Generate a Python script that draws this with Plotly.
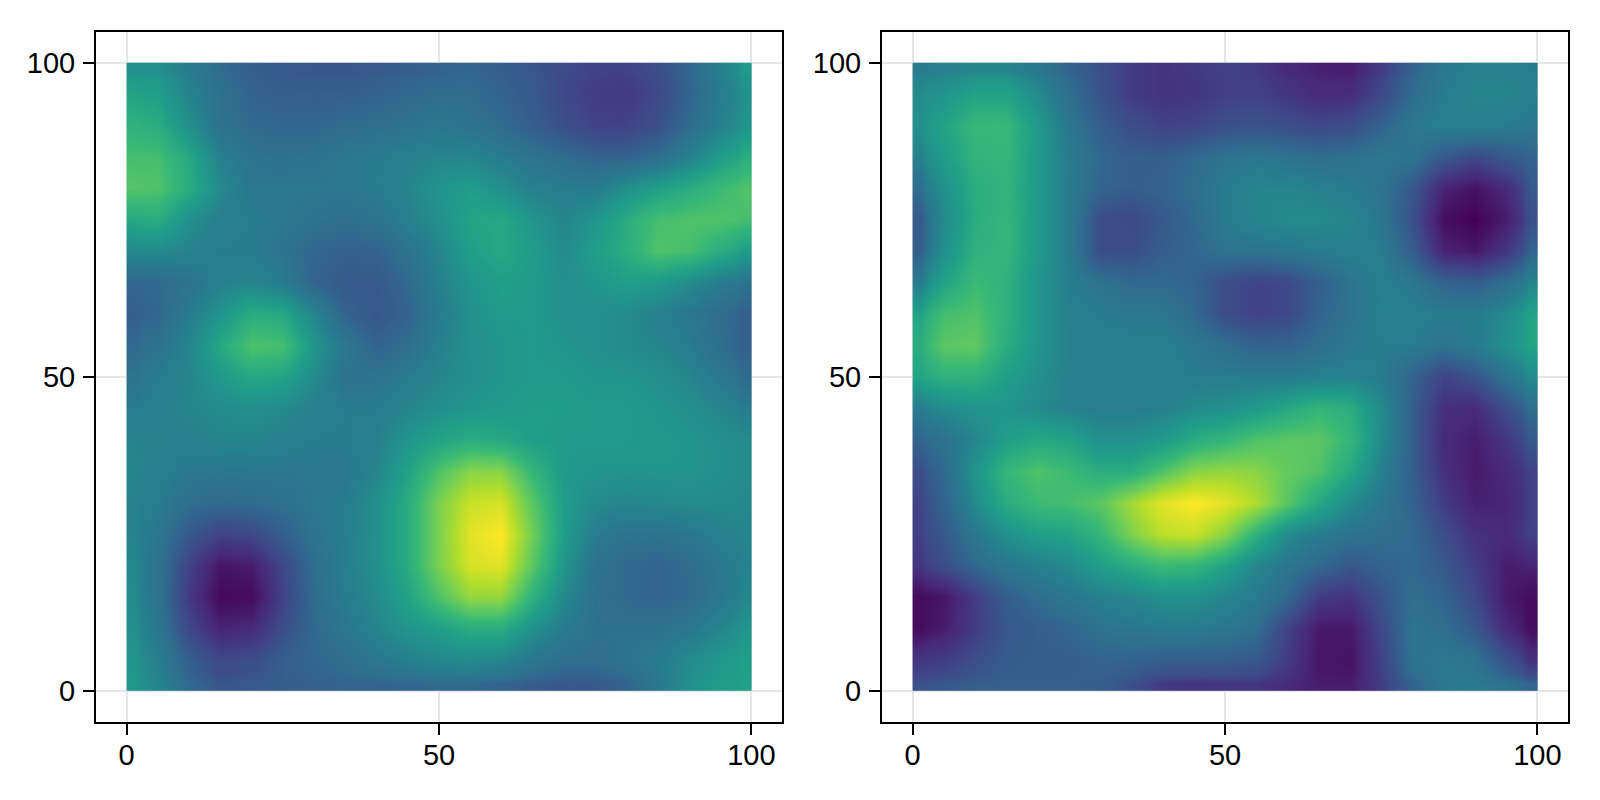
import plotly.graph_objects as go
from plotly.subplots import make_subplots

grid_x = list(range(0, 101, 5))
grid_y = list(range(100, -1, -5))
tick_values = [0, 50, 100]

left_values = [
[.50,.50,.42,.35,.30,.28,.27,.27,.28,.30,.32,.33,.30,.27,.23,.20,.20,.24,.33,.44,.54],
[.58,.56,.45,.37,.32,.30,.30,.30,.32,.34,.35,.35,.32,.28,.22,.18,.17,.22,.32,.42,.50],
[.64,.62,.50,.38,.34,.33,.33,.35,.36,.38,.40,.38,.35,.30,.25,.20,.20,.25,.35,.44,.52],
[.70,.70,.60,.44,.38,.37,.38,.40,.42,.44,.46,.46,.42,.38,.35,.32,.32,.36,.44,.55,.62],
[.73,.72,.62,.48,.40,.40,.40,.40,.42,.46,.52,.55,.50,.44,.42,.42,.50,.56,.62,.68,.72],
[.60,.62,.50,.43,.42,.40,.38,.36,.38,.44,.50,.58,.60,.52,.46,.52,.62,.70,.72,.72,.70],
[.47,.48,.45,.42,.42,.38,.33,.31,.32,.38,.46,.56,.60,.55,.48,.56,.62,.72,.70,.62,.55],
[.33,.34,.38,.44,.46,.42,.32,.28,.28,.34,.44,.52,.56,.54,.50,.52,.56,.54,.48,.42,.38],
[.30,.33,.42,.52,.62,.60,.46,.32,.27,.32,.42,.50,.54,.54,.50,.50,.48,.44,.40,.35,.30],
[.34,.38,.46,.60,.72,.70,.52,.40,.32,.36,.44,.50,.52,.54,.52,.50,.48,.46,.42,.36,.30],
[.38,.42,.46,.54,.60,.58,.48,.38,.38,.42,.46,.50,.52,.54,.54,.52,.52,.50,.46,.40,.35],
[.42,.44,.46,.48,.50,.48,.44,.42,.42,.46,.50,.52,.54,.55,.55,.54,.54,.52,.50,.46,.42],
[.45,.45,.44,.46,.46,.44,.42,.42,.44,.52,.58,.62,.60,.56,.54,.54,.54,.53,.52,.50,.48],
[.46,.44,.40,.40,.40,.40,.40,.40,.46,.58,.72,.82,.82,.66,.54,.52,.52,.52,.52,.50,.48],
[.45,.42,.36,.34,.35,.37,.40,.42,.50,.62,.80,.92,.94,.74,.55,.48,.46,.47,.48,.48,.47],
[.45,.40,.28,.20,.22,.30,.38,.43,.50,.62,.80,.96,1.0,.78,.55,.42,.38,.38,.40,.44,.46],
[.47,.38,.20,.06,.08,.22,.36,.43,.50,.62,.80,.94,.96,.74,.52,.38,.34,.32,.35,.40,.44],
[.48,.38,.17,.02,.03,.20,.35,.42,.48,.58,.72,.84,.84,.64,.47,.37,.34,.32,.34,.40,.46],
[.50,.40,.22,.10,.12,.24,.34,.40,.46,.52,.56,.62,.62,.50,.42,.37,.37,.37,.40,.46,.52],
[.52,.44,.30,.22,.24,.30,.33,.36,.40,.44,.47,.48,.46,.40,.36,.36,.38,.42,.48,.53,.56],
[.53,.46,.34,.27,.28,.30,.31,.32,.32,.33,.34,.34,.32,.29,.27,.28,.32,.40,.50,.55,.57],
]

right_values = [
[.42,.44,.46,.46,.40,.32,.25,.18,.15,.17,.20,.18,.12,.09,.08,.18,.32,.40,.44,.44,.42],
[.48,.52,.58,.58,.48,.36,.26,.18,.15,.16,.19,.20,.16,.12,.13,.22,.35,.42,.46,.46,.44],
[.50,.58,.67,.67,.54,.40,.30,.24,.20,.21,.25,.26,.24,.22,.24,.32,.40,.44,.44,.42,.40],
[.44,.55,.65,.66,.54,.42,.34,.30,.30,.34,.38,.40,.38,.36,.37,.40,.38,.28,.22,.28,.32],
[.36,.50,.62,.65,.54,.42,.32,.30,.32,.36,.42,.46,.46,.44,.42,.38,.28,.10,.05,.12,.28],
[.28,.48,.62,.66,.54,.42,.24,.22,.28,.34,.42,.46,.48,.48,.46,.40,.25,.04,.00,.08,.25],
[.30,.50,.64,.66,.54,.42,.24,.24,.30,.33,.38,.38,.40,.42,.44,.42,.30,.10,.07,.16,.32],
[.42,.58,.68,.64,.52,.43,.38,.34,.34,.32,.24,.20,.22,.30,.38,.44,.40,.32,.30,.36,.46],
[.58,.70,.72,.64,.52,.44,.42,.40,.40,.34,.24,.20,.22,.32,.38,.44,.44,.42,.42,.48,.58],
[.62,.74,.75,.62,.52,.44,.44,.44,.44,.40,.36,.32,.32,.36,.40,.42,.42,.38,.42,.50,.58],
[.58,.64,.64,.56,.50,.44,.44,.44,.44,.42,.42,.42,.42,.44,.45,.42,.32,.20,.26,.38,.48],
[.42,.48,.52,.52,.48,.44,.42,.42,.44,.48,.50,.54,.60,.66,.62,.48,.30,.14,.12,.24,.36],
[.32,.38,.46,.56,.60,.58,.50,.50,.54,.62,.66,.72,.74,.74,.66,.48,.30,.12,.08,.16,.28],
[.24,.34,.52,.66,.72,.68,.62,.62,.72,.82,.84,.82,.76,.72,.60,.44,.30,.14,.07,.12,.20],
[.20,.32,.48,.62,.68,.70,.74,.86,.96,1.0,.96,.88,.74,.60,.48,.40,.32,.18,.09,.10,.20],
[.20,.28,.40,.50,.56,.58,.66,.80,.90,.92,.82,.64,.48,.42,.38,.36,.34,.24,.14,.12,.20],
[.16,.24,.34,.40,.44,.48,.56,.62,.68,.66,.58,.46,.40,.34,.28,.32,.34,.28,.18,.08,.10],
[.03,.06,.18,.30,.36,.40,.44,.46,.50,.50,.46,.42,.34,.18,.15,.26,.36,.32,.22,.07,.03],
[.03,.08,.18,.27,.30,.33,.38,.40,.42,.42,.40,.36,.20,.07,.07,.22,.38,.36,.28,.12,.03],
[.16,.18,.24,.29,.30,.30,.32,.32,.30,.30,.30,.28,.18,.06,.05,.20,.38,.40,.38,.26,.14],
[.26,.28,.30,.31,.31,.31,.30,.25,.17,.15,.16,.16,.12,.08,.08,.18,.32,.40,.42,.38,.32],
]

def cell_edges(centres):
    mids = [(a + b) / 2 for a, b in zip(centres, centres[1:])]
    return [centres[0]] + mids + [centres[-1]]

fig = make_subplots(rows=1, cols=2, horizontal_spacing=0)
for col, values in enumerate([left_values, right_values], start=1):
    fig.add_trace(go.Heatmap(x=cell_edges(grid_x), y=cell_edges(grid_y), z=values,
                             colorscale="Viridis", zmin=0, zmax=1, zsmooth="best",
                             showscale=False, hoverinfo="skip"), row=1, col=col)

axis_style = dict(
    range=[-4.9, 104.9], tickvals=tick_values, ticktext=[str(t) for t in tick_values],
    showgrid=True, gridcolor="#e6e6e6", gridwidth=2, zeroline=False,
    showline=True, linecolor="black", linewidth=2, mirror=True,
    ticks="outside", ticklen=11, tickwidth=2, tickcolor="black",
    tickfont=dict(family="Liberation Sans", size=29, color="black"),
)
fig.update_xaxes(**axis_style, ticklabelstandoff=-5)
fig.update_yaxes(**axis_style, ticklabelstandoff=2)
# The page keeps an 8px body margin, so the figure occupies 1584x784 from (8, 8).
W, H = 1584, 784
OFF = 8
fig.update_layout(
    width=W, height=H, margin=dict(l=0, r=0, t=0, b=0),
    paper_bgcolor="white", plot_bgcolor="white", showlegend=False,
    xaxis=dict(domain=[(96-OFF)/W, (782-OFF)/W]), xaxis2=dict(domain=[(882-OFF)/W, (1568-OFF)/W]),
    yaxis=dict(domain=[1-(722-OFF)/H, 1-(32-OFF)/H]), yaxis2=dict(domain=[1-(722-OFF)/H, 1-(32-OFF)/H]),
)
fig.write_html("out.html")
